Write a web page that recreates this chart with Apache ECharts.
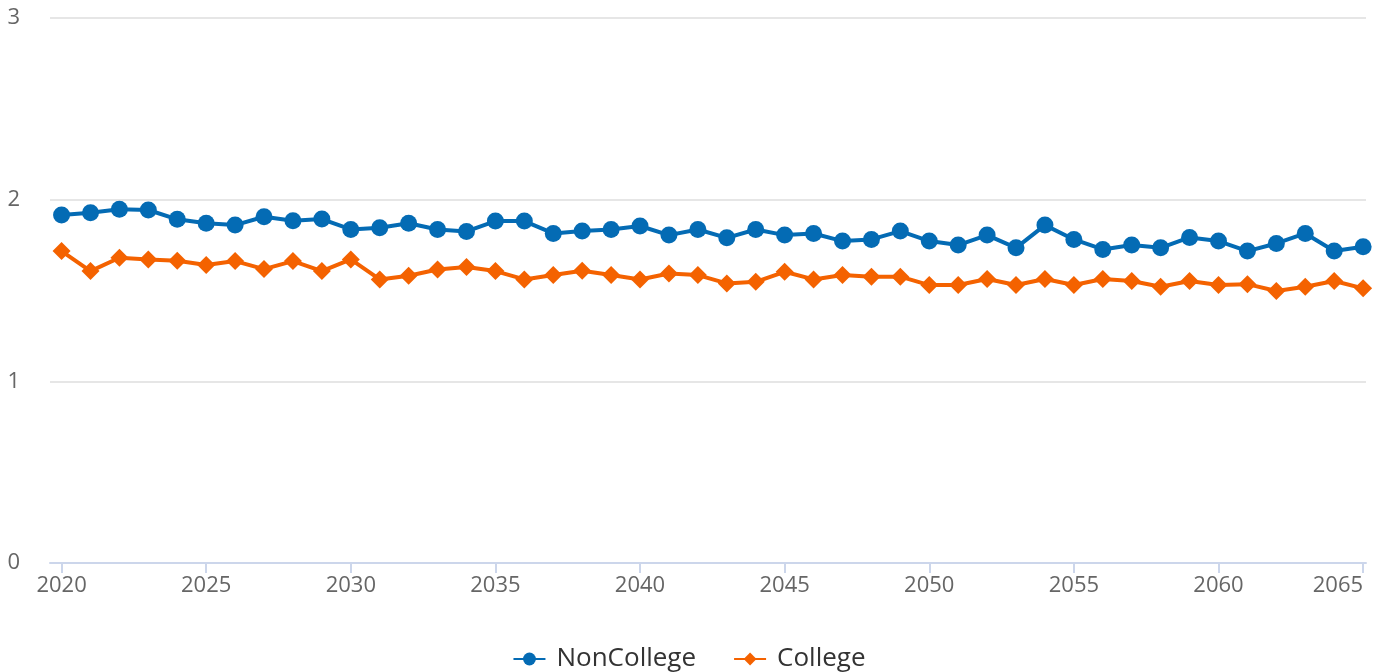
<!DOCTYPE html>
<html>
<head>
<meta charset="utf-8">
<script src="https://cdn.jsdelivr.net/npm/echarts@6/dist/echarts.min.js"></script>
<style>
html,body{margin:0;padding:0;background:#fff;}
#chart{width:1378px;height:672px;}
</style>
</head>
<body>
<div id="chart"></div>
<script>
var years = [];
for (var y = 2020; y <= 2065; y++) years.push(y);
var xTickLabels = [2020, 2025, 2030, 2035, 2040, 2045, 2050, 2055, 2060, 2065];
var nonCollege = [1.915,1.928,1.947,1.943,1.892,1.870,1.860,1.906,1.884,1.893,
  1.836,1.845,1.870,1.836,1.825,1.882,1.882,1.814,1.827,1.836,
  1.855,1.805,1.836,1.790,1.836,1.805,1.814,1.772,1.781,1.827,
  1.772,1.750,1.805,1.735,1.860,1.781,1.726,1.750,1.735,1.792,
  1.772,1.717,1.759,1.814,1.717,1.741];
var college = [1.717,1.607,1.680,1.671,1.664,1.640,1.662,1.618,1.662,1.607,
  1.671,1.561,1.581,1.616,1.629,1.607,1.561,1.585,1.609,1.585,
  1.561,1.594,1.585,1.539,1.548,1.603,1.561,1.585,1.576,1.576,
  1.530,1.530,1.563,1.530,1.563,1.530,1.563,1.552,1.521,1.552,
  1.530,1.535,1.497,1.521,1.552,1.512];

function pairs(vals){ return years.map(function(yr,i){ return [yr, vals[i]]; }); }

var FONT = '"Open Sans", "Noto Sans", sans-serif';
var chart = echarts.init(document.getElementById('chart'), null, {renderer:'canvas'});
chart.setOption({
  animation:false,
  textStyle:{fontFamily:FONT},
  grid:{left:50, right:12, top:18, bottom:109, containLabel:false, outerBoundsMode:'none'},
  xAxis:{
    type:'value', min:2019.6, max:2065.1,
    axisLine:{show:true, onZero:false, lineStyle:{color:'#ccd6eb', width:2}},
    axisTick:{show:true, customValues:xTickLabels, length:10, lineStyle:{color:'#ccd6eb', width:2}},
    axisLabel:{customValues:xTickLabels, color:'#666', fontSize:22, margin:12, fontFamily:FONT,
      alignMaxLabel:'right',
      formatter:function(v){ return String(v); }},
    splitLine:{show:false}
  },
  yAxis:{
    type:'value', min:0, max:3, interval:1,
    axisLine:{show:false}, axisTick:{show:false},
    axisLabel:{color:'#666', fontSize:22, margin:30, fontFamily:FONT},
    splitLine:{lineStyle:{color:'#e6e6e6', width:2}}
  },
  legend:{
    bottom:-5, left:'center', itemGap:37, itemWidth:32, itemHeight:16,
    textStyle:{color:'#333', fontSize:26, fontFamily:FONT, padding:[0,0,0,6]},
    data:['NonCollege','College']
  },
  series:[
    {name:'NonCollege', type:'line', data:pairs(nonCollege), symbol:'circle', symbolSize:17,
      itemStyle:{color:'#046bb4'}, lineStyle:{width:4, color:'#046bb4'}},
    {name:'College', type:'line', data:pairs(college), symbol:'diamond', symbolSize:18,
      itemStyle:{color:'#f46200'}, lineStyle:{width:4, color:'#f46200'}}
  ]
});
</script>
</body>
</html>
